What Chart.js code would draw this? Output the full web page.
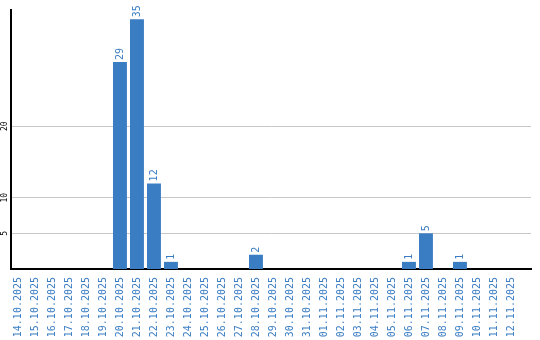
<!DOCTYPE html>
<html>
<head>
<meta charset="utf-8">
<script src="https://cdn.jsdelivr.net/npm/chart.js@4"></script>
<style>
  html, body { margin: 0; padding: 0; background: #fff; }
  #wrap { width: 540px; height: 340px; }
</style>
</head>
<body>
<div id="wrap"><canvas id="chart" width="540" height="340"></canvas></div>
<script>
const dayLabels = [
    '14.10.2025', '15.10.2025', '16.10.2025', '17.10.2025', '18.10.2025', '19.10.2025',
    '20.10.2025', '21.10.2025', '22.10.2025', '23.10.2025', '24.10.2025', '25.10.2025',
    '26.10.2025', '27.10.2025', '28.10.2025', '29.10.2025', '30.10.2025', '31.10.2025',
    '01.11.2025', '02.11.2025', '03.11.2025', '04.11.2025', '05.11.2025', '06.11.2025',
    '07.11.2025', '08.11.2025', '09.11.2025', '10.11.2025', '11.11.2025', '12.11.2025'
];
const counts = [0, 0, 0, 0, 0, 0, 29, 35, 12, 1, 0, 0, 0, 0, 2, 0, 0, 0, 0, 0, 0, 0, 0, 1, 5, 0, 1, 0, 0, 0];
const yTicks = [5, 10, 20];

const blue = '#3b7dc3';

// values above bars, rotated like the date labels
const barValues = {
    id: 'barValues',
    afterDatasetsDraw(chart) {
        const ctx = chart.ctx;
        const meta = chart.getDatasetMeta(0);
        ctx.save();
        ctx.fillStyle = blue;
        ctx.font = '10px "DejaVu Sans Mono"';
        ctx.textAlign = 'left';
        ctx.textBaseline = 'middle';
        meta.data.forEach(function(bar, i) {
            if (!counts[i]) return;
            ctx.save();
            ctx.translate(bar.x, bar.y - 2);
            ctx.rotate(-Math.PI / 2);
            ctx.fillText(String(counts[i]), 0, 0);
            ctx.restore();
        });
        ctx.restore();
    }
};

// small rotated y tick labels
const yLabels = {
    id: 'yLabels',
    afterDraw(chart) {
        const ctx = chart.ctx;
        const y = chart.scales.y;
        ctx.save();
        ctx.fillStyle = '#000';
        ctx.font = '8px "DejaVu Sans Mono"';
        ctx.textAlign = 'center';
        ctx.textBaseline = 'middle';
        yTicks.forEach(function(v) {
            ctx.save();
            ctx.translate(5, y.getPixelForValue(v));
            ctx.rotate(-Math.PI / 2);
            ctx.fillText(String(v), 0, 0);
            ctx.restore();
        });
        ctx.restore();
    }
};

const chart = new Chart(document.getElementById('chart').getContext('2d'), {
    type: 'bar',
    data: {
        datasets: [{
            data: counts.map((c, i) => ({ x: i, y: c })),
            backgroundColor: blue,
            borderWidth: 0,
            categoryPercentage: 1,
            barPercentage: 0.82
        }]
    },
    options: {
        responsive: false,
        animation: false,
        events: [],
        layout: { padding: { top: 10, right: 9, left: 0, bottom: 0 } },
        plugins: { legend: { display: false }, tooltip: { enabled: false } },
        scales: {
            x: {
                type: 'linear',
                offset: false,
                min: -0.41,
                max: 30.18,
                afterFit: s => { s.height = 71; },
                afterBuildTicks: s => { s.ticks = dayLabels.map((_, i) => ({ value: i })); },
                grid: { display: false, drawTicks: false },
                border: { display: true, color: '#000', width: 2 },
                ticks: {
                    autoSkip: false,
                    minRotation: 90,
                    maxRotation: 90,
                    padding: 8,
                    color: blue,
                    font: { family: 'DejaVu Sans Mono', size: 10 },
                    callback: v => dayLabels[v] ?? ''
                }
            },
            y: {
                min: 0,
                max: 36.3,
                afterFit: s => { s.width = 11; },
                afterBuildTicks: s => { s.ticks = yTicks.map(v => ({ value: v })); },
                grid: { color: '#c8c8c8', lineWidth: 1, drawTicks: false },
                border: { display: true, color: '#000', width: 2 },
                ticks: { display: false }
            }
        }
    },
    plugins: [barValues, yLabels]
});
</script>
</body>
</html>
